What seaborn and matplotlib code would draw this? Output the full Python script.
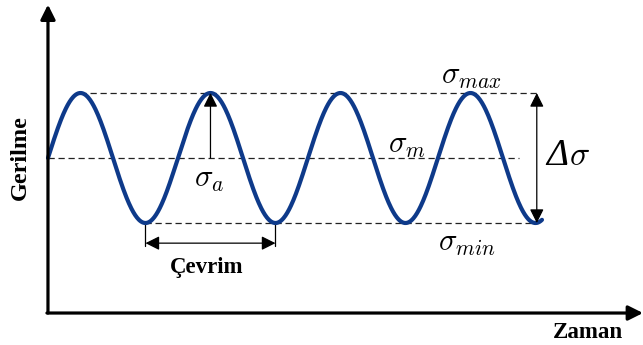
import numpy as np
import pandas as pd
import seaborn as sns
import matplotlib.pyplot as plt

# stress signal parameters (units: cycles / stress amplitudes)
sigma_m = 0.0        # mean stress
sigma_a = 1.0        # stress amplitude
n_cycles = 3.8       # cycles drawn (starts at mean, rising)
n_samples = 800

sigma_max = sigma_m + sigma_a
sigma_min = sigma_m - sigma_a

axis_label_x = "Zaman"
axis_label_y = "Gerilme"
cycle_label = "Çevrim"

BLUE = "#0e3a8a"


def make_signal():
    t = np.linspace(0, n_cycles, n_samples)
    s = sigma_m + sigma_a * np.sin(2 * np.pi * t)
    return pd.DataFrame({"t": t, "s": s})


def plot_signal():
    fig = plt.figure(figsize=(6.43, 3.45), dpi=100)
    ax = fig.add_axes([0, 0, 1, 1])
    ax.set_xlim(-0.369, 4.577)
    ax.set_ylim(-2.877, 2.431)
    ax.axis("off")

    df = make_signal()
    sns.lineplot(data=df, x="t", y="s", color=BLUE, lw=3.0, ax=ax,
                 solid_capstyle="round", zorder=3)

    dash = dict(color="#222222", lw=0.9, ls=(0, (5, 3)), zorder=2)
    ax.plot([0.25, 3.77], [sigma_max, sigma_max], **dash)
    ax.plot([0.0, 3.62], [sigma_m, sigma_m], **dash)
    ax.plot([0.75, 3.77], [sigma_min, sigma_min], **dash)

    # axes with arrowheads
    x0, y0 = 0.0, -2.385
    axarrow = dict(arrowstyle="-|>", lw=2.3, color="black",
                   mutation_scale=22, shrinkA=0, shrinkB=0)
    ax.annotate("", xy=(x0, 2.36), xytext=(x0, y0), arrowprops=axarrow)
    ax.annotate("", xy=(4.577, y0), xytext=(x0 - 0.008, y0), arrowprops=axarrow)

    thin = dict(lw=0.9, color="black", mutation_scale=21, shrinkA=0, shrinkB=0)
    # delta sigma
    ax.annotate("", xy=(3.76, sigma_max), xytext=(3.76, sigma_min),
                arrowprops=dict(arrowstyle="<|-|>", **thin))
    # sigma_a
    ax.annotate("", xy=(1.25, sigma_max), xytext=(1.25, sigma_m),
                arrowprops=dict(arrowstyle="-|>", **thin))
    # one cycle
    yc = -1.31
    ax.annotate("", xy=(0.75, yc), xytext=(1.75, yc),
                arrowprops=dict(arrowstyle="<|-|>", **thin))
    ax.plot([0.75, 0.75], [sigma_min, -1.35], color="black", lw=0.9)
    ax.plot([1.75, 1.75], [sigma_min, -1.35], color="black", lw=0.9)

    fs = 22
    ax.text(1.24, -0.33, r"$\sigma_a$", fontsize=fs, ha="center", va="center")
    ax.text(2.76, 0.2, r"$\sigma_m$", fontsize=fs, ha="center", va="center")
    ax.text(3.26, 1.25, r"$\sigma_{max}$", fontsize=fs, ha="center", va="center")
    ax.text(3.22, -1.31, r"$\sigma_{min}$", fontsize=fs, ha="center", va="center")
    # italic capital delta followed by sigma
    ax.text(3.83, -0.108, "\u0394", family="Liberation Serif", style="italic",
            fontsize=27, ha="left", va="baseline")
    ax.text(4.01, -0.108, r"$\sigma$", fontsize=24, ha="left", va="baseline")

    serif = dict(family="Liberation Serif", weight="bold", fontsize=16.5)
    ax.text(1.22, -1.69, cycle_label, ha="center", va="center", **serif)
    ax.text(4.15, -2.68, axis_label_x, ha="center", va="center", **serif)
    ax.text(-0.215, 0.0, axis_label_y, ha="center", va="center",
            rotation=90, family="Liberation Serif", weight="bold", fontsize=17.5)
    return fig, ax


if __name__ == '__main__':
    sns.set_style("white")
    plt.rcParams["mathtext.fontset"] = "cm"
    plt.rcParams["text.color"] = "black"
    fig, ax = plot_signal()
    fig.savefig("out.png", dpi=100)
